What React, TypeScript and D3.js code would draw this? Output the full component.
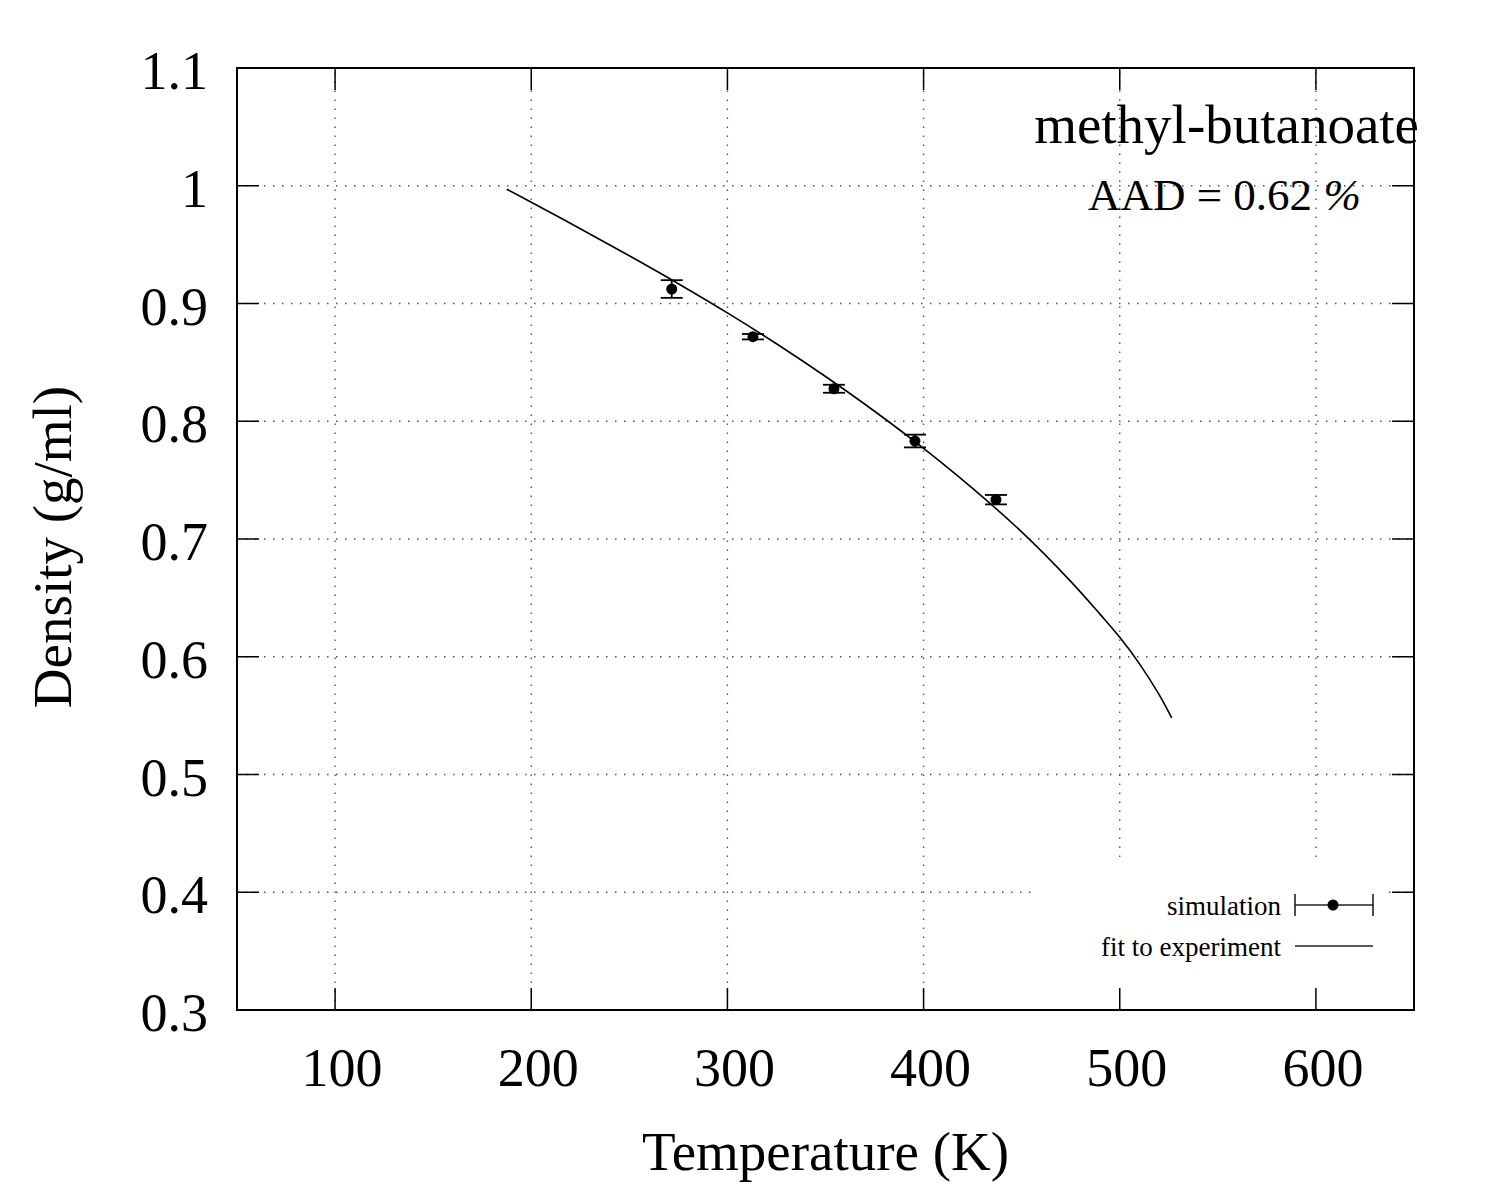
import { useEffect, useRef } from 'react';
import * as d3 from 'd3';

// simulation points (K, g/ml) with error bars
const simTemperature = [271.6, 313.0, 354.3, 395.6, 436.9];
const simDensity = [0.9123, 0.8718, 0.8276, 0.7832, 0.7334];
const simError = [0.0075, 0.0023, 0.0034, 0.0054, 0.004];

// fit to experiment
const fitTemperature = [187.5, 200, 225, 250, 275, 300, 325, 350, 375, 400, 425, 450, 475, 490, 500, 510, 520, 526.5];
const fitDensity = [0.997, 0.986, 0.9635, 0.9405, 0.9168, 0.892, 0.8658, 0.838, 0.8085, 0.777, 0.743, 0.706, 0.664, 0.636, 0.6165, 0.5942, 0.568, 0.548];

const xTicks = [100, 200, 300, 400, 500, 600];
const yTicks = [0.3, 0.4, 0.5, 0.6, 0.7, 0.8, 0.9, 1.0, 1.1];
const yTickLabels = ['0.3', '0.4', '0.5', '0.6', '0.7', '0.8', '0.9', '1', '1.1'];

const legendLabels = ['simulation', 'fit to experiment'];

const FONT = '"Liberation Serif", "Times New Roman", serif';

export default function App() {
  const svgRef = useRef<SVGSVGElement>(null);

  useEffect(() => {
    if (!svgRef.current) return;
    const svg = d3.select(svgRef.current);
    svg.selectAll('*').remove();

    const left = 237;
    const right = 1414;
    const top = 68;
    const bottom = 1010;
    const tickLen = 22;

    const x = d3.scaleLinear().domain([50, 650]).range([left, right]);
    const y = d3.scaleLinear().domain([0.3, 1.1]).range([bottom, top]);

    svg.append('rect').attr('width', 1500).attr('height', 1200).attr('fill', '#fff');

    // dotted grid
    const grid = svg.append('g').attr('stroke', '#555').attr('stroke-width', 1.4).attr('stroke-dasharray', '1.5 7.5');
    grid
      .selectAll('line.gx')
      .data(xTicks)
      .enter()
      .append('line')
      .attr('x1', (d) => x(d))
      .attr('x2', (d) => x(d))
      .attr('y1', bottom)
      .attr('y2', top);
    grid
      .selectAll('line.gy')
      .data(yTicks.slice(1, -1))
      .enter()
      .append('line')
      .attr('x1', left)
      .attr('x2', right)
      .attr('y1', (d) => y(d))
      .attr('y2', (d) => y(d));

    // key box hides the grid behind it
    svg.append('rect').attr('x', 1036).attr('y', 864).attr('width', 352).attr('height', 144).attr('fill', '#fff');

    // ticks on all four sides
    const ticks = svg.append('g').attr('stroke', '#000').attr('stroke-width', 1.5);
    xTicks.forEach((d) => {
      ticks.append('line').attr('x1', x(d)).attr('x2', x(d)).attr('y1', bottom).attr('y2', bottom - tickLen);
      ticks.append('line').attr('x1', x(d)).attr('x2', x(d)).attr('y1', top).attr('y2', top + tickLen);
    });
    yTicks.forEach((d) => {
      ticks.append('line').attr('x1', left).attr('x2', left + tickLen).attr('y1', y(d)).attr('y2', y(d));
      ticks.append('line').attr('x1', right).attr('x2', right - tickLen).attr('y1', y(d)).attr('y2', y(d));
    });

    svg
      .append('rect')
      .attr('x', left)
      .attr('y', top)
      .attr('width', right - left)
      .attr('height', bottom - top)
      .attr('fill', 'none')
      .attr('stroke', '#000')
      .attr('stroke-width', 2);

    // tick labels
    svg
      .append('g')
      .selectAll('text')
      .data(xTicks)
      .enter()
      .append('text')
      .attr('x', (d) => x(d) + 7)
      .attr('y', 1086)
      .attr('text-anchor', 'middle')
      .attr('font-family', FONT)
      .attr('font-size', 54)
      .text((d) => String(d));

    svg
      .append('g')
      .selectAll('text')
      .data(yTicks)
      .enter()
      .append('text')
      .attr('x', 208)
      .attr('y', (d) => y(d) + 21)
      .attr('text-anchor', 'end')
      .attr('font-family', FONT)
      .attr('font-size', 54)
      .text((_, i) => yTickLabels[i]);

    // axis titles
    svg
      .append('text')
      .attr('x', (left + right) / 2)
      .attr('y', 1170)
      .attr('text-anchor', 'middle')
      .attr('font-family', FONT)
      .attr('font-size', 55)
      .text('Temperature (K)');

    svg
      .append('text')
      .attr('transform', 'translate(71, 547) rotate(-90)')
      .attr('text-anchor', 'middle')
      .attr('font-family', FONT)
      .attr('font-size', 55)
      .text('Density (g/ml)');

    // labels in the plot
    svg
      .append('text')
      .attr('x', 1419)
      .attr('y', 143)
      .attr('text-anchor', 'end')
      .attr('font-family', FONT)
      .attr('font-size', 55)
      .text('methyl-butanoate');

    const aad = svg
      .append('text')
      .attr('x', 1088)
      .attr('y', 210)
      .attr('font-family', FONT)
      .attr('font-size', 45);
    aad.append('tspan').text('AAD = 0.62 ');
    aad.append('tspan').attr('font-style', 'italic').text('%');

    // fit curve
    const line = d3
      .line<number>()
      .x((_, i) => x(fitTemperature[i]))
      .y((d) => y(d))
      .curve(d3.curveCatmullRom);

    svg
      .append('path')
      .attr('d', line(fitDensity))
      .attr('fill', 'none')
      .attr('stroke', '#000')
      .attr('stroke-width', 1.6);

    // simulation points with error bars
    const cap = 11;
    const pts = svg.append('g').attr('stroke', '#000').attr('stroke-width', 1.8);
    simDensity.forEach((d, i) => {
      const cx = x(simTemperature[i]);
      const yHi = y(d + simError[i]);
      const yLo = y(d - simError[i]);
      pts.append('line').attr('x1', cx).attr('x2', cx).attr('y1', yHi).attr('y2', yLo);
      pts.append('line').attr('x1', cx - cap).attr('x2', cx + cap).attr('y1', yHi).attr('y2', yHi);
      pts.append('line').attr('x1', cx - cap).attr('x2', cx + cap).attr('y1', yLo).attr('y2', yLo);
      pts.append('circle').attr('cx', cx).attr('cy', y(d)).attr('r', 5.5).attr('fill', '#000').attr('stroke', 'none');
    });

    // key
    const key = svg.append('g');
    const sampleX1 = 1295;
    const sampleX2 = 1373;
    const rowY = [905, 946];
    legendLabels.forEach((label, i) => {
      key
        .append('text')
        .attr('x', 1281)
        .attr('y', rowY[i] + 10)
        .attr('text-anchor', 'end')
        .attr('font-family', FONT)
        .attr('font-size', 27)
        .text(label);
    });
    const ks = key.append('g').attr('stroke', '#222').attr('stroke-width', 1.6);
    ks.append('line').attr('x1', sampleX1).attr('x2', sampleX2).attr('y1', rowY[0]).attr('y2', rowY[0]);
    ks.append('line').attr('x1', sampleX1).attr('x2', sampleX1).attr('y1', rowY[0] - 11).attr('y2', rowY[0] + 11);
    ks.append('line').attr('x1', sampleX2).attr('x2', sampleX2).attr('y1', rowY[0] - 11).attr('y2', rowY[0] + 11);
    ks.append('circle').attr('cx', (sampleX1 + sampleX2) / 2 - 1).attr('cy', rowY[0]).attr('r', 5.5).attr('fill', '#000').attr('stroke', 'none');
    ks.append('line').attr('x1', sampleX1).attr('x2', sampleX2).attr('y1', rowY[1]).attr('y2', rowY[1]);
  }, []);

  return (
    <svg
      ref={svgRef}
      width={1500}
      height={1200}
      style={{ position: 'absolute', left: 0, top: 0, display: 'block' }}
    />
  );
}
